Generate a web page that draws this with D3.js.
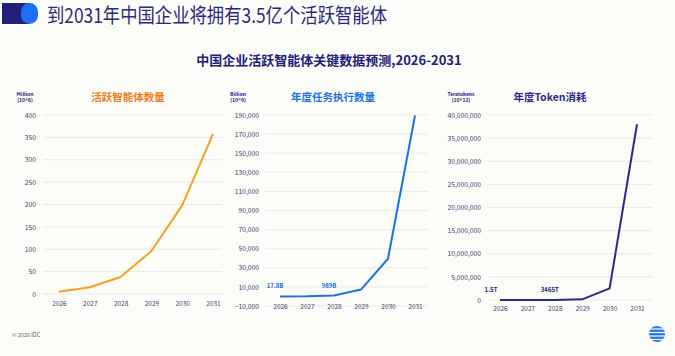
<!DOCTYPE html>
<html><head><meta charset="utf-8">
<script src="https://cdn.jsdelivr.net/npm/d3@7"></script>
<style>
html,body{margin:0;padding:0;background:#fcfcf9;}
svg{display:block;}
text{font-family:"Noto Sans CJK SC","Noto Sans",sans-serif;}
</style></head>
<body>
<script>
const years = ["2026","2027","2028","2029","2030","2031"];
const agents = [5, 15, 38, 96, 198, 358];
const tasks = [17.8, 150, 989, 7200, 39500, 189500];
const tokens = [1.5, 300, 3465, 150000, 2500000, 38000000];
const agentTicks = [0,50,100,150,200,250,300,350,400];
const taskTicks = [-10000,10000,30000,50000,70000,90000,110000,130000,150000,170000,190000];
const tokenTicks = [0,5e6,10e6,15e6,20e6,25e6,30e6,35e6,40e6];
const taskLabels = [{i:0, t:"17.8B"}, {i:2, t:"989B"}];
const tokenLabels = [{i:0, t:"1.5T"}, {i:2, t:"3465T"}];

const W = 675, H = 356;
const svg = d3.select("body").append("svg").attr("width", W).attr("height", H);
svg.append("rect").attr("width", W).attr("height", H).attr("fill", "#fcfcf9");

// header icon
svg.append("rect").attr("x", 2).attr("y", 3).attr("width", 28).attr("height", 21).attr("fill", "#22207a");
svg.append("rect").attr("x", 21).attr("y", 3).attr("width", 17).attr("height", 21).attr("rx", 8.5).attr("fill", "#1f6ff0");
svg.append("text").attr("x", 47).attr("y", 23).attr("font-size", 20).attr("fill", "#2b2a7d")
  .attr("textLength", 340).attr("lengthAdjust", "spacingAndGlyphs")
  .text("到2031年中国企业将拥有3.5亿个活跃智能体");

svg.append("text").attr("x", 329).attr("y", 65).attr("text-anchor", "middle")
  .attr("font-size", 13).attr("font-weight", "bold").attr("fill", "#22207a")
  .text("中国企业活跃智能体关键数据预测,2026-2031");

function panel(cfg) {
  const g = svg.append("g");
  const x = d3.scalePoint().domain(years).range(cfg.xr);
  const y = d3.scaleLinear().domain(cfg.yd).range(cfg.yr);
  g.selectAll("line.grid").data(cfg.ticks).join("line")
    .attr("x1", cfg.gx[0]).attr("x2", cfg.gx[1])
    .attr("y1", d => y(d)).attr("y2", d => y(d))
    .attr("stroke", "#e9e9e6").attr("stroke-width", 1);
  const ya = g.append("g").attr("transform", `translate(${cfg.gx[0]},0)`)
    .call(d3.axisLeft(y).tickValues(cfg.ticks).tickSize(0).tickPadding(cfg.pad).tickFormat(d3.format(",")));
  ya.select(".domain").remove();
  ya.selectAll("text").attr("font-size", 6.7).attr("fill", "#3d3c72")
    .attr("font-family", "'Noto Sans','Noto Sans CJK SC',sans-serif");
  const xa = g.append("g").attr("transform", `translate(0,${cfg.xly})`)
    .call(d3.axisBottom(x).tickSize(0));
  xa.select(".domain").remove();
  xa.selectAll("text").attr("y", 0).attr("dy", "0.35em").attr("font-size", 6.5).attr("fill", "#3d3c72")
    .attr("font-family", "'Noto Sans','Noto Sans CJK SC',sans-serif");
  g.append("path").datum(cfg.values)
    .attr("d", d3.line().x((d, i) => x(years[i])).y(d => y(d)))
    .attr("fill", "none").attr("stroke", cfg.color).attr("stroke-width", 2)
    .attr("stroke-linejoin", "round");
  g.append("text").attr("x", cfg.tx).attr("y", 101).attr("text-anchor", "middle")
    .attr("font-size", 10.5).attr("font-weight", "bold").attr("fill", cfg.tcolor).text(cfg.title);
  g.append("text").attr("x", cfg.ux).attr("y", 96).attr("text-anchor", "middle")
    .attr("font-size", 5).attr("font-weight", "bold").attr("fill", "#22207a")
    .attr("font-family", "'Noto Sans',sans-serif").text(cfg.unit1);
  g.append("text").attr("x", cfg.ux).attr("y", 102).attr("text-anchor", "middle")
    .attr("font-size", 5).attr("font-weight", "bold").attr("fill", "#22207a")
    .attr("font-family", "'Noto Sans',sans-serif").text(cfg.unit2);
  (cfg.labels || []).forEach(l => {
    g.append("text").attr("x", x(years[l.i]) + (l.dx || 0)).attr("y", y(cfg.values[l.i]) - 8)
      .attr("text-anchor", "middle").attr("font-size", 6).attr("font-weight", "bold")
      .attr("fill", cfg.lcolor).attr("font-family", "'Noto Sans',sans-serif").text(l.t);
  });
}

panel({values: agents, ticks: agentTicks, yd: [0, 400], yr: [294, 115], xr: [59, 213], gx: [43, 222], pad: 7,
  xly: 304, color: "#f5a01e", tcolor: "#f07d1c", title: "活跃智能体数量", tx: 128, ux: 25,
  unit1: "Million", unit2: "(10^6)"});
panel({values: tasks, ticks: taskTicks, yd: [-10000, 190000], yr: [306, 115], xr: [280, 415], gx: [265, 428], pad: 6,
  xly: 307, color: "#1a72e8", tcolor: "#1a72e8", title: "年度任务执行数量", tx: 333, ux: 238,
  unit1: "Billion", unit2: "(10^9)", lcolor: "#1a72e8",
  labels: taskLabels.map(l => Object.assign({dx: -5}, l))});
panel({values: tokens, ticks: tokenTicks, yd: [0, 4e7], yr: [300, 115], xr: [500, 637], gx: [487, 652], pad: 6,
  xly: 309, color: "#2b2a8c", tcolor: "#2b2a8c", title: "年度Token消耗", tx: 550, ux: 461,
  unit1: "Teratokens", unit2: "(10^12)", lcolor: "#22207a",
  labels: tokenLabels.map((l, k) => Object.assign({dx: k === 0 ? -9 : -5}, l))});

// footer
svg.append("text").attr("x", 12).attr("y", 337).attr("font-size", 5.5).attr("fill", "#666")
  .attr("font-family", "'Noto Sans',sans-serif").text("© 2026 IDC");
const logo = svg.append("g").attr("transform", "translate(657,334)");
logo.append("circle").attr("r", 8).attr("fill", "#2a74ea");
[-5, -1.5, 2, 5.5].forEach(dy => {
  logo.append("rect").attr("x", -9).attr("y", dy - 0.6).attr("width", 18).attr("height", 1.2).attr("fill", "#fcfcf9");
});
</script>
</body></html>
